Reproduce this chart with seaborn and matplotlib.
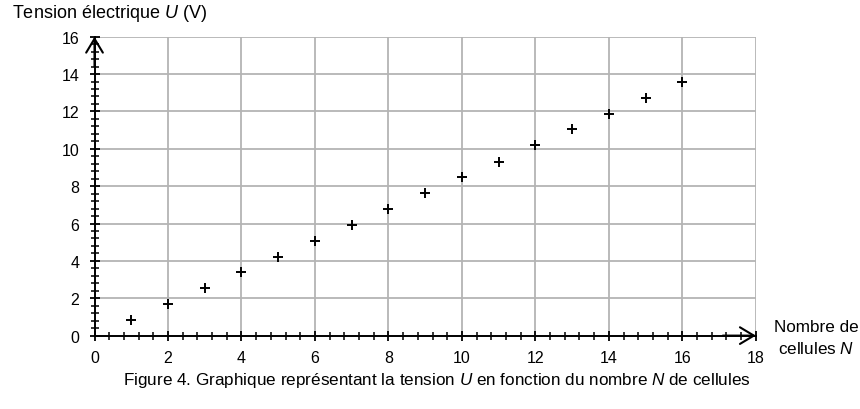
import matplotlib
matplotlib.use("Agg")
import matplotlib.pyplot as plt
from matplotlib.ticker import MultipleLocator
import seaborn as sns
import pandas as pd

# Data
cells_N = [1, 2, 3, 4, 5, 6, 7, 8, 9, 10, 11, 12, 13, 14, 15, 16]
tension_U = [0.82, 1.68, 2.54, 3.38, 4.22, 5.09, 5.93, 6.79, 7.63,
             8.48, 9.32, 10.18, 11.04, 11.87, 12.70, 13.57]
x_ticks = [0, 2, 4, 6, 8, 10, 12, 14, 16, 18]
y_ticks = [0, 2, 4, 6, 8, 10, 12, 14, 16]

df = pd.DataFrame({"N": cells_N, "U": tension_U})

sns.set_theme(style="white")
plt.rcParams["font.family"] = ["Liberation Sans", "DejaVu Sans"]
plt.rcParams["mathtext.fontset"] = "custom"
plt.rcParams["mathtext.it"] = "Liberation Sans:italic"
plt.rcParams["mathtext.rm"] = "Liberation Sans"

fig = plt.figure(figsize=(8.6, 4.1), dpi=100)
ax = fig.add_axes([0.1099, 0.179, 0.769, 0.729])

ax.set_xlim(0, 18)
ax.set_ylim(0, 16)
ax.set_xticks(x_ticks)
ax.set_yticks(y_ticks)
ax.xaxis.set_minor_locator(MultipleLocator(0.4))
ax.yaxis.set_minor_locator(MultipleLocator(0.4))

ax.grid(True, which="major", color="#b4b4b4", linewidth=1.3)
ax.set_axisbelow(True)

for s in ["top", "right"]:
    ax.spines[s].set_visible(False)
for s in ["left", "bottom"]:
    ax.spines[s].set_color("black")
    ax.spines[s].set_linewidth(1.4)
    ax.spines[s].set_zorder(3)

ax.tick_params(which="major", direction="inout", length=7, width=1.3,
               color="black", labelsize=11.5, labelcolor="black",
               left=True, bottom=True)
ax.tick_params(which="minor", direction="inout", length=5.5, width=1.1,
               color="black", left=True, bottom=True)
ax.tick_params(axis="y", which="major", pad=7.5)
ax.tick_params(axis="x", which="major", pad=7)

sns.scatterplot(data=df, x="N", y="U", marker="+", s=45, color="black",
                linewidth=1.4, ax=ax, zorder=4, clip_on=False)
ax.set_xlabel("")
ax.set_ylabel("")

# axis arrows
ax.annotate("", xy=(0, 1.0), xytext=(0, 0.9), xycoords="axes fraction",
            arrowprops=dict(arrowstyle="->,head_length=0.5,head_width=0.3",
                            lw=1.5, color="black",
                            mutation_scale=20, shrinkA=0, shrinkB=0),
            annotation_clip=False)
ax.annotate("", xy=(1.0, 0), xytext=(0.95, 0), xycoords="axes fraction",
            arrowprops=dict(arrowstyle="->,head_length=0.5,head_width=0.3",
                            lw=1.5, color="black",
                            mutation_scale=20, shrinkA=0, shrinkB=0),
            annotation_clip=False)

fig.text(12 / 860, 1 - 14 / 410, "Tension électrique $\\it{U}$ (V)",
         fontsize=13, ha="left", va="center", color="black")
fig.text(816 / 860, 1 - 327 / 410, "Nombre de", fontsize=12.3,
         ha="center", va="center", color="black")
fig.text(816 / 860, 1 - 349 / 410, "cellules $\\it{N}$", fontsize=12.3,
         ha="center", va="center", color="black")
fig.text(436.5 / 860, 1 - 381 / 410,
         "Figure 4. Graphique représentant la tension $\\it{U}$ en fonction du nombre $\\it{N}$ de cellules",
         fontsize=12.3, ha="center", va="center", color="black")

fig.savefig("out.png", dpi=100)
